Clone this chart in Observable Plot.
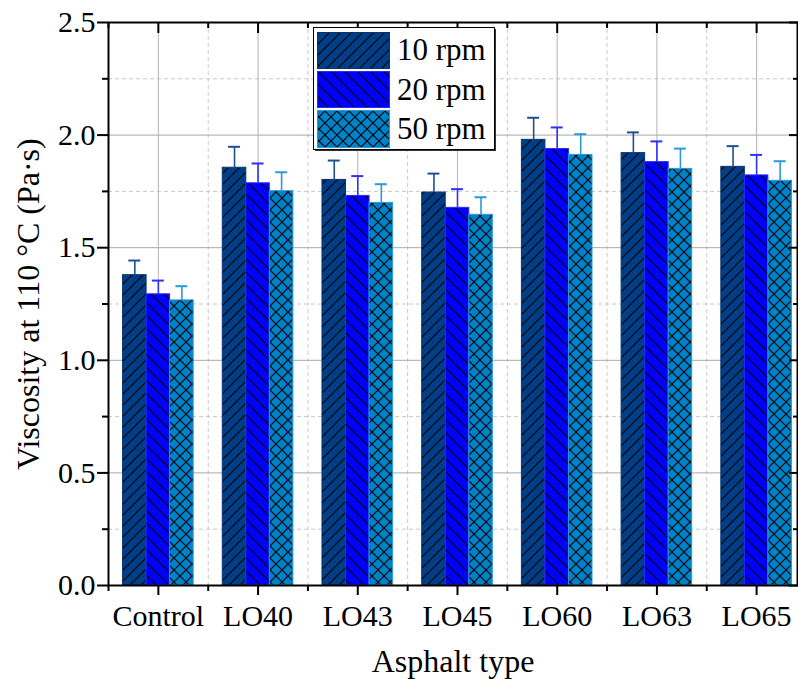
<!DOCTYPE html>
<html>
<head>
<meta charset="utf-8">
<script src="https://cdn.jsdelivr.net/npm/d3@7"></script>
<script src="https://cdn.jsdelivr.net/npm/@observablehq/plot@0.6"></script>
<style>
  html, body { margin: 0; padding: 0; background: #fff; }
  #wrap { position: relative; width: 798px; height: 679px; }
  #legend { position: absolute; left: 313px; top: 27px; }
</style>
</head>
<body>
<div id="wrap"></div>
<script>
// ---- data ----
const categories = ["Control", "LO40", "LO43", "LO45", "LO60", "LO63", "LO65"];
const seriesNames = ["10 rpm", "20 rpm", "50 rpm"];
const v10 = [1.378, 1.855, 1.801, 1.745, 1.979, 1.920, 1.859];
const v20 = [1.293, 1.786, 1.730, 1.677, 1.938, 1.880, 1.821];
const v50 = [1.266, 1.751, 1.699, 1.646, 1.912, 1.850, 1.797];
const e10 = [0.065, 0.093, 0.086, 0.084, 0.098, 0.092, 0.092];
const e20 = [0.061, 0.088, 0.088, 0.083, 0.096, 0.092, 0.091];
const e50 = [0.063, 0.084, 0.083, 0.078, 0.092, 0.090, 0.087];
const yMajor = [0, 0.5, 1.0, 1.5, 2.0, 2.5];
const yMinor = [0.25, 0.75, 1.25, 1.75, 2.25];
const xTitle = "Asphalt type";
const yTitle = "Viscosity at 110 °C (Pa·s)";

// ---- styles ----
const fills = ["#003f87", "#0000ff", "#0082c8"];
const edges = ["#0a3470", "#2a2aff", "#2a98d8"];
const errColors = ["#1f4f8f", "#3030ff", "#2a9ad8"];
const patIds = ["p10", "p20", "p50"];
const FONT = "'Liberation Serif', 'Times New Roman', serif";

const values = [v10, v20, v50];
const errors = [e10, e20, e50];
const barW = 0.236;
const capHalf = 0.06;

const rows = [];
seriesNames.forEach((s, k) => {
  categories.forEach((c, i) => {
    rows.push({cat: c, idx: i + 1, k, s, v: values[k][i], e: errors[k][i], cx: i + 1 + (k - 1) * barW});
  });
});

const xMajor = categories.map((c, i) => i + 1);
const xMinor = categories.map((c, i) => i + 0.5);
const noText = () => "";

const marks = [
  Plot.gridY(yMinor, {stroke: "#c8c8c8", strokeOpacity: 1, strokeDasharray: "4,3"}),
  Plot.gridX(xMinor.slice(1), {stroke: "#c8c8c8", strokeOpacity: 1, strokeDasharray: "4,3"}),
  Plot.gridY(yMajor.slice(1, -1), {stroke: "#a8a8a8", strokeOpacity: 1}),
  Plot.gridX(xMajor, {stroke: "#b4b4b4", strokeOpacity: 1}),
];
seriesNames.forEach((s, k) => {
  const d = rows.filter(r => r.k === k);
  marks.push(Plot.rectY(d, {
    x1: r => r.cx - barW / 2, x2: r => r.cx + barW / 2, y1: 0, y2: "v",
    fill: `url(#${patIds[k]})`, stroke: edges[k], strokeWidth: 1
  }));
  marks.push(Plot.ruleX(d, {x: "cx", y1: "v", y2: r => r.v + r.e, stroke: errColors[k], strokeWidth: 1.6}));
  marks.push(Plot.ruleY(d, {y: r => r.v + r.e, x1: r => r.cx - capHalf, x2: r => r.cx + capHalf, stroke: errColors[k], strokeWidth: 2}));
});
marks.push(
  Plot.axisY({ticks: yMajor, tickSize: 11, tickPadding: 2, strokeWidth: 2, tickFormat: ".1f", fontSize: 30, label: null}),
  Plot.axisY({ticks: yMinor, tickSize: 6, strokeWidth: 2, tickFormat: noText, label: null}),
  Plot.axisY({anchor: "right", ticks: yMajor, tickSize: -9, strokeWidth: 2, tickFormat: noText, label: null}),
  Plot.axisY({anchor: "right", ticks: yMinor, tickSize: -5, strokeWidth: 2, tickFormat: noText, label: null}),
  Plot.axisX({ticks: xMajor, tickSize: 10, tickPadding: 9, strokeWidth: 2, tickFormat: i => categories[i - 1], fontSize: 30, label: null}),
  Plot.axisX({ticks: xMinor, tickSize: 6, strokeWidth: 2, tickFormat: noText, label: null}),
  Plot.axisX({anchor: "top", ticks: xMajor, tickSize: -10, strokeWidth: 2, tickFormat: noText, label: null}),
  Plot.axisX({anchor: "top", ticks: xMinor, tickSize: -5, strokeWidth: 2, tickFormat: noText, label: null}),
  Plot.text([xTitle], {text: d => d, frameAnchor: "bottom", dy: 76, lineAnchor: "middle", textAnchor: "middle", fontSize: 32}),
  Plot.text([yTitle], {text: d => d, frameAnchor: "left", dx: -80, rotate: -90, lineAnchor: "middle", textAnchor: "middle", fontSize: 32}),
  Plot.frame({stroke: "#000", strokeWidth: 2})
);

const chart = Plot.plot({
  width: 798, height: 679,
  marginLeft: 108, marginRight: 1, marginTop: 22, marginBottom: 94,
  style: {fontFamily: FONT, fontSize: "30px", color: "#000", background: "#fff", overflow: "visible"},
  x: {type: "linear", domain: [0.5, 7.41]},
  y: {domain: [0, 2.5]},
  marks
});

function patternDefs(prefix) {
  const unit = (id, fill, body, size) =>
    `<pattern id="${prefix}${id}" patternUnits="userSpaceOnUse" width="${size}" height="${size}">` +
    `<rect width="${size}" height="${size}" fill="${fill}"/>${body}</pattern>`;
  const s1 = 11, s2 = 13, s3 = 12;
  return unit("p10", fills[0],
      `<path d="M-2,2 L2,-2 M0,${s1} L${s1},0 M${s1-2},${s1+2} L${s1+2},${s1-2}" stroke="#000" stroke-width="1.1"/>`, s1) +
    unit("p20", fills[1],
      `<path d="M-2,${s2-2} L2,${s2+2} M0,0 L${s2},${s2} M${s2-2},-2 L${s2+2},2" stroke="#000" stroke-width="1.1"/>`, s2) +
    unit("p50", fills[2],
      `<path d="M0,0 L${s3},${s3} M${s3},0 L0,${s3} M-1,-1 L1,1 M${s3-1},${s3+1} L${s3+1},${s3-1}" stroke="#000" stroke-width="1.1"/>`, s3);
}

const ns = "http://www.w3.org/2000/svg";
const defs = document.createElementNS(ns, "defs");
defs.innerHTML = patternDefs("");
chart.insertBefore(defs, chart.firstChild);

document.getElementById("wrap").appendChild(chart);

// legend
const lg = document.createElement("div");
lg.id = "legend";
const lw = 181, lh = 122;
let inner = `<svg xmlns="${ns}" width="${lw + 3}" height="${lh + 3}" style="display:block;overflow:visible">` +
  `<defs>${patternDefs("L")}</defs>` +
  `<rect x="2" y="2" width="${lw}" height="${lh}" fill="#333"/>` +
  `<rect x="0.5" y="0.5" width="${lw}" height="${lh}" fill="#fff" stroke="#000" stroke-width="1"/>`;
const rowsY = [5, 44, 83];
const rowsH = [36, 36, 37];
const baseY = [33, 73, 112];
seriesNames.forEach((s, k) => {
  inner += `<rect x="4.5" y="${rowsY[k] + 0.5}" width="72" height="${rowsH[k]}" fill="url(#Lp${["10","20","50"][k]})" stroke="${edges[k]}" stroke-width="1"/>`;
  inner += `<text x="84" y="${baseY[k]}" font-family="${FONT.replace(/'/g, "&quot;")}" font-size="31" fill="#000">${s}</text>`;
});
inner += `</svg>`;
lg.innerHTML = inner;
document.getElementById("wrap").appendChild(lg);
</script>
</body>
</html>
